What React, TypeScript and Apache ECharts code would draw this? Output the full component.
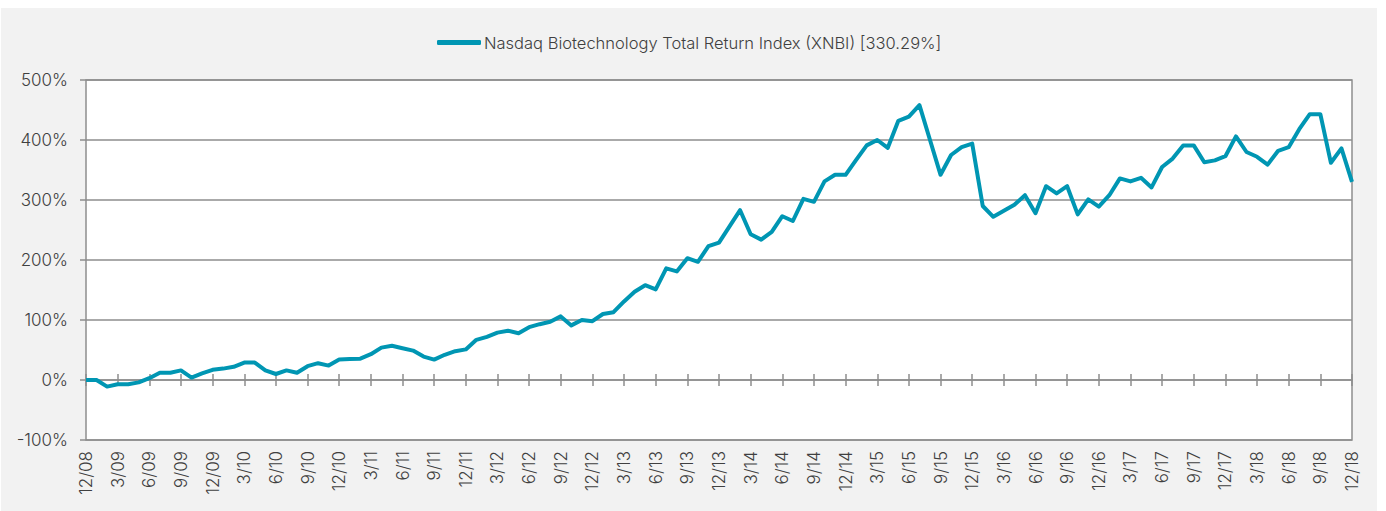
import React, { useEffect, useRef } from "react";
import * as echarts from "echarts";

const seriesName = "Nasdaq Biotechnology Total Return Index (XNBI) [330.29%]";

// Monthly month-end labels, 12/08 .. 12/18
const startYear = 2008;
const months: string[] = [];
for (let k = 0; k <= 120; k++) {
  const m = ((11 + k) % 12) + 1;
  const y = startYear + Math.floor((11 + k) / 12);
  months.push(`${m}/${String(y % 100).padStart(2, "0")}`);
}

// Cumulative total return, %
const xnbi: number[] = [
  0, 0, -11, -7, -7, -4, 3, 12, 12, 16, 4, 11,
  17, 19, 22, 29, 29, 16, 10, 16, 12, 23, 28, 24,
  34, 35, 35.5, 43, 54, 57, 53, 49, 39, 34, 42, 48,
  51, 67, 72, 79, 82, 78, 88, 93, 97, 106, 91, 100,
  98, 110, 113, 131, 147, 158, 151, 186, 181, 203, 197, 223,
  229, 256, 283, 243, 234, 247, 273, 265, 302, 297, 331, 342,
  342, 367, 391, 400, 387, 432, 439, 458, 400, 342, 375, 388,
  394, 290, 272, 282, 292, 308, 278, 323, 311, 323, 276, 301,
  289, 308, 336, 331, 337, 321, 355, 369, 391, 391, 363, 366,
  373, 406, 380, 372, 359, 382, 388, 418, 443, 443, 362, 386,
  330.29,
];

const yMin = -100;
const yMax = 500;
const yStep = 100;

const LINE = "#0096b3";
const GRIDC = "#8e8e8e";
const TEXT = "#404040";
const FONT = "Inter, 'Noto Sans', sans-serif";
const WEIGHT = 300;

export default function App() {
  const ref = useRef<HTMLDivElement>(null);
  useEffect(() => {
    document.body.style.margin = "0";
    if (!ref.current) return;
    const chart = echarts.init(ref.current, undefined, { renderer: "svg" });
    const tickAxis = (inside: boolean, showLine: boolean) => ({
      type: "category",
      data: months,
      boundaryGap: false,
      position: "bottom",
      axisLine: {
        show: showLine,
        onZero: true,
        onZeroAxisIndex: 0,
        lineStyle: { color: GRIDC, width: 1.5 },
      },
      axisTick: {
        show: true,
        interval: 2,
        inside,
        length: 6,
        lineStyle: { color: GRIDC, width: 1.5 },
      },
      axisLabel: { show: false },
      splitLine: { show: false },
    });
    chart.setOption({
      animation: false,
      backgroundColor: "transparent",
      textStyle: { fontFamily: FONT, color: TEXT, fontWeight: WEIGHT },
      legend: {
        top: 29,
        left: 432,
        icon: "roundRect",
        itemWidth: 44,
        itemHeight: 5,
        itemGap: 4,
        textStyle: {
          fontFamily: FONT,
          fontWeight: WEIGHT,
          fontSize: 16.5,
          color: TEXT,
          padding: [0, 0, 0, -2],
        },
        data: [seriesName],
      },
      grid: {
        left: 86,
        right: 34,
        top: 80,
        bottom: 71,
        show: true,
        backgroundColor: "#ffffff",
        borderColor: GRIDC,
        borderWidth: 1.5,
        outerBoundsMode: "none",
        containLabel: false,
      },
      xAxis: [
        {
          type: "category",
          data: months,
          boundaryGap: false,
          position: "bottom",
          axisLine: { show: false, onZero: false },
          axisTick: { show: false },
          axisLabel: {
            interval: 2,
            rotate: 90,
            fontFamily: FONT,
            fontWeight: WEIGHT,
            fontSize: 17,
            color: TEXT,
            margin: 11,
          },
          splitLine: { show: false },
        },
        tickAxis(false, true),
        tickAxis(true, false),
      ],
      yAxis: {
        type: "value",
        min: yMin,
        max: yMax,
        interval: yStep,
        axisLine: { show: false },
        axisTick: { show: true, length: 6, lineStyle: { color: GRIDC, width: 1.5 } },
        axisLabel: {
          formatter: "{value}%",
          fontFamily: FONT,
          fontWeight: WEIGHT,
          fontSize: 17,
          color: TEXT,
          margin: 18,
        },
        splitLine: { show: true, lineStyle: { color: GRIDC, width: 1.5 } },
      },
      series: [
        {
          name: seriesName,
          type: "line",
          xAxisIndex: 0,
          data: xnbi,
          symbol: "none",
          lineStyle: { color: LINE, width: 4, join: "round" },
          itemStyle: { color: LINE },
          z: 5,
        },
      ],
    });
    return () => chart.dispose();
  }, []);
  return (
    <div style={{ position: "relative", width: 1386, height: 511, background: "#ffffff" }}>
      <div
        style={{
          position: "absolute",
          left: 1,
          top: 8,
          width: 1376,
          height: 503,
          background: "#f2f2f2",
        }}
      />
      <div ref={ref} style={{ position: "absolute", left: 0, top: 0, width: 1386, height: 511 }} />
    </div>
  );
}
